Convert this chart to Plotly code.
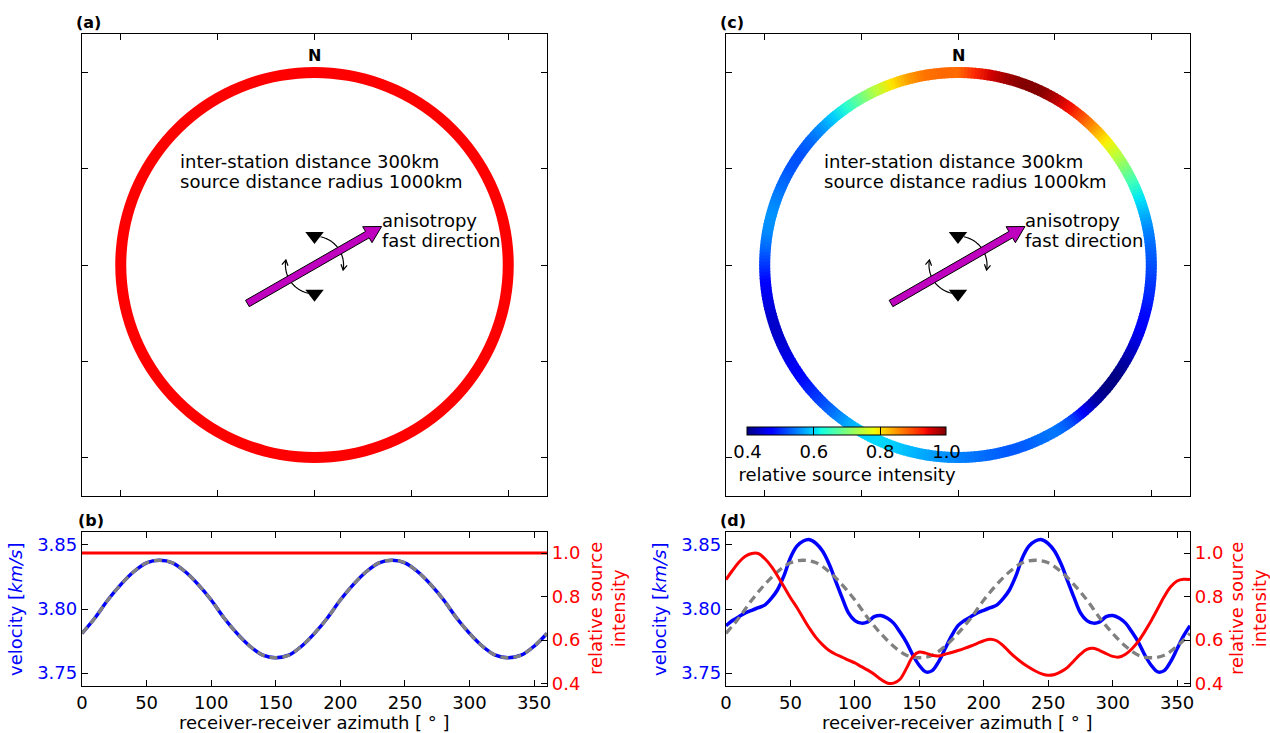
import numpy as np
import plotly.graph_objects as go

# ---------------------------------------------------------------- data
# receiver-receiver azimuth grid (degrees), 5 degree spacing, 0..360
AZIMUTH = list(range(0, 361, 5))

# relative source intensity along azimuth (panel c ring / panel d red curve)
INTENSITY = [
    0.878, 0.920, 0.958, 0.985, 0.998, 0.998, 0.975, 0.940, 0.895, 0.845,
    0.795, 0.750, 0.700, 0.652, 0.610, 0.578, 0.552, 0.535, 0.522, 0.508,
    0.495, 0.478, 0.462, 0.443, 0.420, 0.403, 0.402, 0.420, 0.470, 0.525,
    0.545, 0.540, 0.530, 0.527, 0.535, 0.543, 0.552, 0.562, 0.573, 0.585,
    0.597, 0.604, 0.597, 0.575, 0.545, 0.518, 0.495, 0.475, 0.458, 0.445,
    0.438, 0.442, 0.455, 0.475, 0.505, 0.535, 0.557, 0.562, 0.552, 0.538,
    0.525, 0.522, 0.535, 0.560, 0.595, 0.640, 0.690, 0.745, 0.800, 0.845,
    0.872, 0.880, 0.878,
]

# apparent phase velocity for the heterogeneous source distribution (panel d)
VEL_HETERO = [
    3.787, 3.791, 3.794, 3.797, 3.799, 3.801, 3.803, 3.808, 3.815, 3.826,
    3.840, 3.849, 3.853, 3.854, 3.851, 3.845, 3.835, 3.822, 3.809, 3.797,
    3.791, 3.789, 3.790, 3.794, 3.795, 3.793, 3.789, 3.782, 3.774, 3.764,
    3.756, 3.751, 3.752, 3.759, 3.769, 3.779,
    3.787, 3.791, 3.794, 3.797, 3.799, 3.801, 3.803, 3.808, 3.815, 3.826,
    3.840, 3.849, 3.853, 3.854, 3.851, 3.845, 3.835, 3.822, 3.809, 3.797,
    3.791, 3.789, 3.790, 3.794, 3.795, 3.793, 3.789, 3.782, 3.774, 3.764,
    3.756, 3.751, 3.752, 3.759, 3.769, 3.779, 3.787,
]

# model velocity (10 degree spacing); also the recovered velocity for uniform sources
AZIMUTH_MODEL = list(range(0, 361, 10))
VEL_MODEL = [
    3.781, 3.793, 3.807, 3.819, 3.829, 3.836, 3.838, 3.836, 3.829, 3.819,
    3.807, 3.793, 3.781, 3.771, 3.764, 3.762, 3.764, 3.771,
    3.781, 3.793, 3.807, 3.819, 3.829, 3.836, 3.838, 3.836, 3.829, 3.819,
    3.807, 3.793, 3.781, 3.771, 3.764, 3.762, 3.764, 3.771, 3.781,
]

# uniform source intensity (panel a / b)
AZIMUTH_UNIFORM = [0, 360]
INTENSITY_UNIFORM = [1.0, 1.0]

# geometry of the sketch (km)
SOURCE_RADIUS = 1000
STATION_OFFSET = 150
FAST_AZIMUTH = 60
ARROW_HALF_LENGTH = 400
ROTATION_ARCS = [(12, 100), (192, 280)]
MAP_TICKS = [-1000, -500, 0, 500, 1000]
X_TICKS = [0, 50, 100, 150, 200, 250, 300, 350]
VEL_TICKS = [3.75, 3.80, 3.85]
INT_TICKS = [0.4, 0.6, 0.8, 1.0]

# matplotlib-style jet colour map
JET = [
    [0.000, (0, 0, 128)], [0.110, (0, 0, 255)], [0.125, (0, 0, 255)],
    [0.340, (0, 219, 255)], [0.350, (0, 230, 247)], [0.375, (21, 255, 226)],
    [0.640, (239, 255, 8)], [0.650, (247, 245, 0)], [0.660, (255, 236, 0)],
    [0.890, (255, 19, 0)], [0.910, (232, 0, 0)], [1.000, (128, 0, 0)],
]
JET_SCALE = [[p, "rgb(%d,%d,%d)" % c] for p, c in JET]
CMIN, CMAX = 0.4, 1.0

FONT = "DejaVu Sans"
FS = 18
W, H = 1270, 733
BLUE, RED, GRAY = "rgb(0,0,255)", "rgb(255,0,0)", "rgb(128,128,128)"
MAGENTA = "rgb(191,0,191)"


def jet_rgb(v):
    t = (v - CMIN) / (CMAX - CMIN)
    t = min(max(t, 0.0), 1.0)
    for k in range(len(JET) - 1):
        p0, c0 = JET[k]
        p1, c1 = JET[k + 1]
        if p0 <= t <= p1:
            f = (t - p0) / (p1 - p0)
            return [a + f * (b - a) for a, b in zip(c0, c1)]
    return list(JET[-1][1])


def rgb_str(c):
    return "rgb(%d,%d,%d)" % tuple(round(v) for v in c)


def polar_xy(r, az_deg):
    a = np.radians(np.asarray(az_deg, dtype=float))
    return r * np.sin(a), r * np.cos(a)


def rotate(v, deg):
    a = np.radians(deg)
    return np.array([v[0] * np.cos(a) - v[1] * np.sin(a), v[0] * np.sin(a) + v[1] * np.cos(a)])


def px_x(p):
    return p / W


def px_y(p):
    return 1 - p / H


# panel frames in pixels
LEFT = (82, 547)
RIGHT = (726, 1190)
TOP = (34, 496)
BOT = (532, 686)

fig = go.Figure()

axis_common = dict(showline=True, linecolor="black", linewidth=1.3, ticks="inside",
                   ticklen=6, tickwidth=1, tickcolor="black", showgrid=False,
                   zeroline=False)

# map axes (a) and (c)
for xs, suffix in [(LEFT, ""), (RIGHT, "2")]:
    fig.update_layout(**{
        "xaxis" + suffix: dict(axis_common, domain=[px_x(xs[0]), px_x(xs[1])],
                               range=[-1200, 1200], tickvals=MAP_TICKS,
                               showticklabels=False, mirror="ticks",
                               anchor="y" + suffix),
        "yaxis" + suffix: dict(axis_common, domain=[px_y(TOP[1]), px_y(TOP[0])],
                               range=[-1200, 1200], tickvals=MAP_TICKS,
                               showticklabels=False, mirror="ticks",
                               anchor="x" + suffix),
    })

# line-plot axes (b) and (d)
for xs, xs_name, yl, yr in [(LEFT, "3", "3", "5"), (RIGHT, "4", "4", "6")]:
    fig.update_layout(**{
        "xaxis" + xs_name: dict(axis_common, domain=[px_x(xs[0]), px_x(xs[1])],
                                range=[0, 360], tickvals=X_TICKS, mirror="ticks",
                                tickfont=dict(family=FONT, size=FS, color="black"),
                                anchor="y" + yl),
        "yaxis" + yl: dict(axis_common, domain=[px_y(BOT[1]), px_y(BOT[0])],
                           range=[3.74, 3.86], tickvals=VEL_TICKS, tickformat=".2f",
                           tickfont=dict(family=FONT, size=FS, color=BLUE),
                           anchor="x" + xs_name),
        "yaxis" + yr: dict(axis_common, range=[0.389, 1.097], tickvals=INT_TICKS,
                           tickformat=".1f", side="right",
                           overlaying="y" + yl, anchor="x" + xs_name,
                           tickfont=dict(family=FONT, size=FS, color=RED)),
    })

# ---------------------------------------------------------------- rings
rx, ry = polar_xy(SOURCE_RADIUS, AZIMUTH)
fig.add_trace(go.Scatter(x=rx, y=ry, mode="lines",
                         line=dict(color=RED, width=11, shape="spline"),
                         xaxis="x", yaxis="y", hoverinfo="skip"))

# coloured ring: colour bar carrier, then short arcs shaded between samples
ring_vals = INTENSITY[:-1]
ring_grid = AZIMUTH[:-1]
mx, my = polar_xy(SOURCE_RADIUS, ring_grid)
fig.add_trace(go.Scatter(
    x=mx, y=my, mode="markers", xaxis="x2", yaxis="y2", hoverinfo="skip",
    marker=dict(size=10, color=ring_vals, colorscale=JET_SCALE, cmin=CMIN, cmax=CMAX,
                showscale=True,
                colorbar=dict(orientation="h", x=px_x(847), xanchor="center",
                              y=px_y(426.5), yanchor="top", len=199, lenmode="pixels",
                              thickness=8, xpad=0, ypad=0,
                              outlinecolor="black", outlinewidth=1,
                              tickvals=INT_TICKS, tickformat=".1f",
                              ticks="inside", ticklen=8, tickcolor="black", tickwidth=1,
                              tickfont=dict(family=FONT, size=FS, color="black"),
                              title=dict(text="relative source intensity", side="bottom",
                                         font=dict(family=FONT, size=FS, color="black"))))))
SUB = 5
for i in range(len(ring_grid)):
    az0, az1 = AZIMUTH[i], AZIMUTH[i + 1]
    c0, c1 = jet_rgb(INTENSITY[i]), jet_rgb(INTENSITY[i + 1])
    for k in range(SUB):
        f0, f1 = k / SUB, (k + 1) / SUB
        fm = (f0 + f1) / 2
        a0 = az0 + f0 * (az1 - az0) - 0.15
        a1 = az0 + f1 * (az1 - az0) + 0.15
        sx, sy = polar_xy(SOURCE_RADIUS, [a0, (a0 + a1) / 2, a1])
        col = [a + fm * (b - a) for a, b in zip(c0, c1)]
        fig.add_trace(go.Scatter(x=sx, y=sy, mode="lines", xaxis="x2", yaxis="y2",
                                 line=dict(color=rgb_str(col), width=11), hoverinfo="skip"))

# ---------------------------------------------------------------- station sketch
ua = np.radians(FAST_AZIMUTH)
u = np.array([np.sin(ua), np.cos(ua)])
n = np.array([np.cos(ua), -np.sin(ua)])
shaft_w, head_w, head_l = 19, 48, 85
L = ARROW_HALF_LENGTH
poly = np.array([-L * u + shaft_w * n, (L - head_l) * u + shaft_w * n,
                 (L - head_l) * u + head_w * n, L * u, (L - head_l) * u - head_w * n,
                 (L - head_l) * u - shaft_w * n, -L * u - shaft_w * n, -L * u + shaft_w * n])

HEAD_LEN, HEAD_ANGLE = 32, 30
for xa, ya in [("x", "y"), ("x2", "y2")]:
    # rotation arcs around the station pair, each ending in an open arrow head
    for a0, a1 in ROTATION_ARCS:
        arc = np.arange(a0, a1 + 0.1, 2.0)
        ax_, ay_ = polar_xy(STATION_OFFSET, arc)
        fig.add_trace(go.Scatter(x=ax_, y=ay_, mode="lines", xaxis=xa, yaxis=ya,
                                 line=dict(color="black", width=1.2, shape="spline"),
                                 hoverinfo="skip"))
        tip = np.array([ax_[-1], ay_[-1]])
        ar = np.radians(a1)
        back = -np.array([np.cos(ar), -np.sin(ar)])
        w1 = tip + HEAD_LEN * rotate(back, HEAD_ANGLE)
        w2 = tip + HEAD_LEN * rotate(back, -HEAD_ANGLE)
        fig.add_trace(go.Scatter(x=[w1[0], tip[0], w2[0]], y=[w1[1], tip[1], w2[1]],
                                 mode="lines", xaxis=xa, yaxis=ya,
                                 line=dict(color="black", width=1.2), hoverinfo="skip"))
    # stations
    fig.add_trace(go.Scatter(x=[0, 0], y=[STATION_OFFSET, -STATION_OFFSET], mode="markers",
                             xaxis=xa, yaxis=ya,
                             marker=dict(symbol="triangle-down", size=16, color="black"),
                             hoverinfo="skip"))
    # fast direction arrow
    fig.add_trace(go.Scatter(x=poly[:, 0], y=poly[:, 1], mode="lines", fill="toself",
                             fillcolor=MAGENTA, line=dict(color="black", width=1),
                             xaxis=xa, yaxis=ya, hoverinfo="skip"))

# ---------------------------------------------------------------- curves
for xa, ya, yb, vaz, vel, iaz, ival in [
        ("x3", "y3", "y5", AZIMUTH_MODEL, VEL_MODEL, AZIMUTH_UNIFORM, INTENSITY_UNIFORM),
        ("x4", "y4", "y6", AZIMUTH, VEL_HETERO, AZIMUTH, INTENSITY)]:
    fig.add_trace(go.Scatter(x=vaz, y=vel, mode="lines", xaxis=xa, yaxis=ya,
                             line=dict(color=BLUE, width=3.5, shape="spline"), hoverinfo="skip"))
    fig.add_trace(go.Scatter(x=AZIMUTH_MODEL, y=VEL_MODEL, mode="lines", xaxis=xa, yaxis=ya,
                             line=dict(color=GRAY, width=3.3, dash="8px,5px", shape="spline"),
                             hoverinfo="skip"))
    fig.add_trace(go.Scatter(x=iaz, y=ival, mode="lines", xaxis=xa, yaxis=yb,
                             line=dict(color=RED, width=3, shape="spline"), hoverinfo="skip"))

# ---------------------------------------------------------------- text
ann = []


def text(x, y, s, xref="paper", yref="paper", size=FS, color="black", xanchor="center",
         yanchor="middle", angle=0, bold=False, **extra):
    ann.append(dict(x=x, y=y, xref=xref, yref=yref, text=("<b>%s</b>" % s) if bold else s,
                    showarrow=False, xanchor=xanchor, yanchor=yanchor, textangle=angle,
                    font=dict(family=FONT, size=size, color=color), **extra))


for lbl, xp, yp in [("(a)", 74, 22), ("(c)", 718, 22), ("(b)", 76, 520), ("(d)", 718, 520)]:
    text(px_x(xp), px_y(yp), lbl, xanchor="left", size=16, bold=True)

for xa, ya in [("x", "y"), ("x2", "y2")]:
    text(0, 1088, "N", xref=xa, yref=ya, size=16, bold=True)
    text(-705, 539, "inter-station distance 300km", xref=xa, yref=ya, xanchor="left")
    text(-705, 432, "source distance radius 1000km", xref=xa, yref=ya, xanchor="left")
    text(338, 232, "anisotropy", xref=xa, yref=ya, xanchor="left")
    text(338, 128, "fast direction", xref=xa, yref=ya, xanchor="left")

for x0, x1, rx_off in [(LEFT[0], LEFT[1], 60), (RIGHT[0], RIGHT[1], 58)]:
    text(px_x((x0 + x1) / 2), 0, "receiver-receiver azimuth [ ° ]", yanchor="bottom",
         height=19, borderpad=0)
    text(px_x(x0 - 67), px_y(609), "velocity [<i>km/s</i>]", color=BLUE, angle=-90)
    text(px_x(x1 + rx_off), px_y(609), "relative source<br>intensity", color=RED, angle=-90)

fig.update_layout(annotations=ann, width=W, height=H,
                  margin=dict(l=0, r=0, t=0, b=0, autoexpand=False),
                  paper_bgcolor="white", plot_bgcolor="white", showlegend=False,
                  font=dict(family=FONT, size=FS))

fig.write_html("out.html")
